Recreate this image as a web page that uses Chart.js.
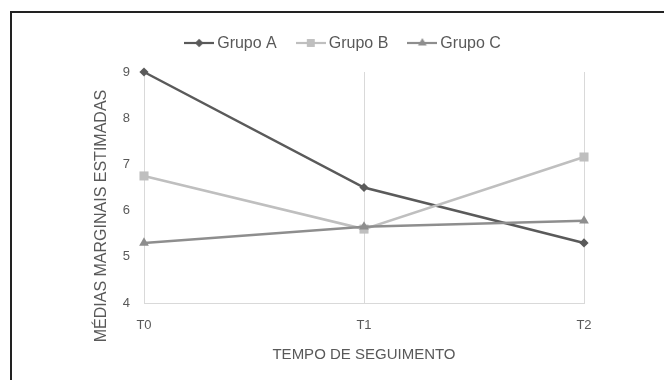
<!DOCTYPE html>
<html>
<head>
<meta charset="utf-8">
<script src="https://cdn.jsdelivr.net/npm/chart.js@4/dist/chart.umd.min.js"></script>
<style>
  html, body { margin: 0; padding: 0; background: #fff; }
  #wrap { width: 664px; height: 380px; position: relative; }
</style>
</head>
<body>
<div id="wrap"><canvas id="chart" width="664" height="380"></canvas></div>
<script>
// Estimated marginal means per group at each follow-up time
const categories = ['T0', 'T1', 'T2'];
const seriesNames = ['Grupo A', 'Grupo B', 'Grupo C'];
const grupoA = [9.0, 6.5, 5.3];
const grupoB = [6.75, 5.6, 7.16];
const grupoC = [5.3, 5.65, 5.78];
const yTicks = [4, 5, 6, 7, 8, 9];
const yTitle = 'MÉDIAS MARGINAIS ESTIMADAS';
const xTitle = 'TEMPO DE SEGUIMENTO';

const FONT = '"Liberation Sans", Arial, Helvetica, sans-serif';
const TEXT = '#595959';
const GRID = '#d9d9d9';
const styles = [
  { color: '#5a5a5a', point: 'rectRot', radius: 4.6, legendRadius: 4.2 },
  { color: '#bfbfbf', point: 'rect', radius: 6.4, legendRadius: 5.6 },
  { color: '#8e8e8e', point: 'triangle', radius: 5.6, legendRadius: 5.0 }
];

// Small line + marker sample for each legend entry
function drawMarker(ctx, style, r, x, y) {
  ctx.beginPath();
  if (style === 'rectRot') {
    ctx.moveTo(x, y - r); ctx.lineTo(x + r, y); ctx.lineTo(x, y + r); ctx.lineTo(x - r, y);
  } else if (style === 'rect') {
    const s = r * Math.SQRT1_2;
    ctx.rect(x - s, y - s, 2 * s, 2 * s);
  } else {
    const h = r * 1.5, w = r * Math.sqrt(3) / 2;
    ctx.moveTo(x, y - r); ctx.lineTo(x + w, y + h - r); ctx.lineTo(x - w, y + h - r);
  }
  ctx.closePath();
  ctx.fill();
}
function legendSwatch(st) {
  const c = document.createElement('canvas');
  c.width = 30; c.height = 20;
  const ctx = c.getContext('2d');
  ctx.strokeStyle = st.color;
  ctx.fillStyle = st.color;
  ctx.lineWidth = 2.2;
  ctx.beginPath(); ctx.moveTo(0, 9); ctx.lineTo(30, 9); ctx.stroke();
  drawMarker(ctx, st.point, st.legendRadius, 15, 9);
  return c;
}
const swatches = styles.map(legendSwatch);

const seriesValues = [grupoA, grupoB, grupoC];
const datasets = seriesValues.map((values, i) => ({
  label: seriesNames[i],
  data: values,
  borderColor: styles[i].color,
  backgroundColor: styles[i].color,
  borderWidth: 2.5,
  pointStyle: styles[i].point,
  pointRadius: styles[i].radius,
  pointHoverRadius: styles[i].radius,
  pointBackgroundColor: styles[i].color,
  pointBorderColor: styles[i].color,
  pointBorderWidth: 0,
  tension: 0,
  fill: false,
  clip: false,
  order: 3 - i
}));

// Outer frame, vertical axis title and extra room under the legend
const framePlugin = {
  id: 'framePlugin',
  afterInit(chart) {
    const legend = chart.legend;
    const baseFit = legend.fit;
    legend.fit = function () {
      baseFit.call(this);
      this.height += 10;
    };
  },
  beforeDraw(chart) {
    const ctx = chart.ctx;
    ctx.save();
    ctx.fillStyle = '#ffffff';
    ctx.fillRect(0, 0, chart.width, chart.height);
    ctx.strokeStyle = '#222222';
    ctx.lineWidth = 2;
    ctx.beginPath();
    ctx.moveTo(11, chart.height);
    ctx.lineTo(11, 12);
    ctx.lineTo(chart.width, 12);
    ctx.stroke();
    ctx.restore();
  },
  afterDraw(chart) {
    const ctx = chart.ctx;
    ctx.save();
    ctx.translate(chart.chartArea.left - 42, 216);
    ctx.rotate(-Math.PI / 2);
    ctx.font = '16px ' + FONT;
    ctx.fillStyle = TEXT;
    ctx.textAlign = 'center';
    ctx.textBaseline = 'middle';
    ctx.fillText(yTitle, 0, 0);
    ctx.restore();
  }
};

new Chart(document.getElementById('chart'), {
  type: 'line',
  data: { labels: categories, datasets },
  plugins: [framePlugin],
  options: {
    responsive: false,
    animation: false,
    devicePixelRatio: 1,
    layout: { padding: { left: 106, right: 80, top: 12, bottom: 0 } },
    plugins: {
      tooltip: { enabled: false },
      legend: {
        position: 'top',
        labels: {
          usePointStyle: true,
          pointStyleWidth: 20,
          padding: 24,
          color: TEXT,
          font: { family: FONT, size: 16 },
          sort: (a, b) => a.datasetIndex - b.datasetIndex,
          generateLabels(chart) {
            const items = Chart.defaults.plugins.legend.labels.generateLabels(chart);
            items.forEach(it => { it.pointStyle = swatches[it.datasetIndex]; });
            return items;
          }
        }
      }
    },
    scales: {
      x: {
        offset: false,
        grid: { display: true, color: GRID, lineWidth: 1, drawTicks: false },
        border: { display: true, color: GRID, width: 1 },
        ticks: { color: TEXT, font: { family: FONT, size: 13 }, padding: 15 },
        title: {
          display: true, text: xTitle, color: TEXT,
          font: { family: FONT, size: 15 },
          padding: { top: 0, bottom: 16 }
        },
        afterFit(scale) { scale.height = 77; }
      },
      y: {
        min: yTicks[0],
        max: yTicks[yTicks.length - 1],
        grid: { display: false, drawTicks: false },
        border: { display: false },
        ticks: {
          stepSize: yTicks[1] - yTicks[0],
          color: TEXT,
          font: { family: FONT, size: 13 },
          padding: 14
        },
        afterFit(scale) { scale.width = 38; }
      }
    }
  }
});
</script>
</body>
</html>
